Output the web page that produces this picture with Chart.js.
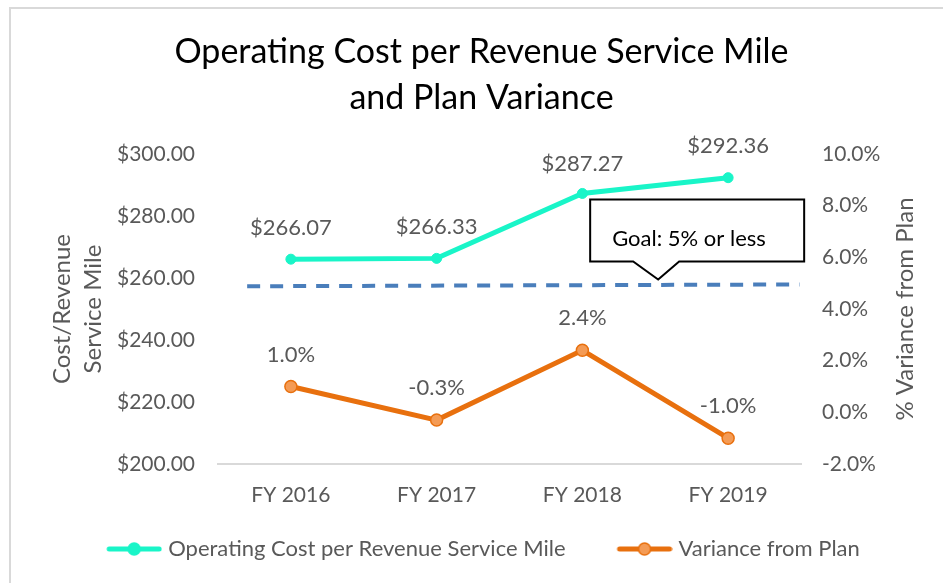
<!DOCTYPE html>
<html>
<head>
<meta charset="utf-8">
<script src="https://cdn.jsdelivr.net/npm/chart.js@4.4.1/dist/chart.umd.min.js"></script>
<style>
html, body { margin: 0; padding: 0; background: #fff; }
</style>
</head>
<body>
<canvas id="chart" width="943" height="583"></canvas>
<script>
// values
const years = ['FY 2016', 'FY 2017', 'FY 2018', 'FY 2019']
const costPerMile = [266.07, 266.33, 287.27, 292.36]
const planVariance = [1.0, -0.3, 2.4, -1.0]
// goal line is drawn as a slightly sloped dashed line in the source (x in category units)
const goalX = [-0.3, 3.49]
const goalY = [4.88, 4.95]
const goalText = 'Goal: 5% or less'

const FONT = 'Lato'
const GRAY = '#595959'
const CYAN = '#19F5C8'
const ORANGE = '#E8700E'

// legend swatches: line with a dot, like the office legend
// (canvas wider than the legend box, swatch pushed right so it sits next to the text)
function swatch(color, fill, border) {
    const c = document.createElement('canvas')
    c.width = 96; c.height = 16
    const g = c.getContext('2d')
    g.strokeStyle = color; g.lineWidth = 5; g.lineCap = 'round'
    g.beginPath(); g.moveTo(43, 8); g.lineTo(93, 8); g.stroke()
    g.beginPath(); g.arc(68, 8, 6, 0, Math.PI * 2)
    g.fillStyle = fill; g.fill()
    g.lineWidth = 1.5; g.strokeStyle = border; g.stroke()
    return c
}
const swatches = [swatch(CYAN, CYAN, CYAN), swatch(ORANGE, '#F49B55', ORANGE)]

const labelLift = [[31, 31, 30, 32], [32, 32, 32, 32]]

const extras = {
    id: 'extras',
    afterLayout(chart) {
        // legend sits a bit left of centre in the source
        if (chart.legend) chart.legend.left -= 32
    },
    beforeDraw(chart) {
        const ctx = chart.ctx
        ctx.save()
        ctx.fillStyle = '#fff'
        ctx.fillRect(0, 0, chart.width, chart.height)
        ctx.strokeStyle = '#D9D9D9'
        ctx.lineWidth = 2
        ctx.strokeRect(10, 8, chart.width + 20, chart.height + 20)
        ctx.restore()
    },
    afterDatasetsDraw(chart) {
        const ctx = chart.ctx
        ctx.save()
        ctx.font = `22px ${FONT}`
        ctx.fillStyle = GRAY
        ctx.textAlign = 'center'
        ctx.textBaseline = 'middle'
        ;[0, 1].forEach(d => {
            const meta = chart.getDatasetMeta(d)
            const vals = chart.data.datasets[d].data
            meta.data.forEach((pt, i) => {
                const txt = d === 0 ? '$' + vals[i].toFixed(2) : vals[i].toFixed(1) + '%'
                ctx.fillText(txt, pt.x, pt.y - labelLift[d][i])
            })
        })

        // callout box pointing at the goal line
        const tipX = chart.scales.x.getPixelForValue(2.52)
        const tipY = chart.scales.y1.getPixelForValue(4.95) - 5
        const l = tipX - 68, r = tipX + 146, t = tipY - 80, b = tipY - 18
        ctx.beginPath()
        ctx.moveTo(l, t); ctx.lineTo(r, t); ctx.lineTo(r, b)
        ctx.lineTo(tipX + 21, b); ctx.lineTo(tipX, tipY); ctx.lineTo(tipX - 25, b)
        ctx.lineTo(l, b); ctx.closePath()
        ctx.fillStyle = '#fff'; ctx.fill()
        ctx.strokeStyle = '#000'; ctx.lineWidth = 2; ctx.stroke()
        ctx.fillStyle = '#000'
        ctx.textAlign = 'left'
        ctx.font = `22px ${FONT}`
        ctx.fillText(goalText, l + 22, t + 39)

        // right axis title reads bottom to top
        const y1 = chart.scales.y1
        ctx.save()
        ctx.translate(905, (y1.top + y1.bottom) / 2)
        ctx.rotate(-Math.PI / 2)
        ctx.textAlign = 'center'
        ctx.fillStyle = GRAY
        ctx.font = `24px ${FONT}`
        ctx.fillText('% Variance from Plan', 0, 0)
        ctx.restore()
        ctx.restore()
    }
}

new Chart(document.getElementById('chart'), {
    type: 'line',
    data: {
        labels: years,
        datasets: [{
            label: 'Operating Cost per Revenue Service Mile',
            data: costPerMile,
            yAxisID: 'y',
            borderColor: CYAN,
            backgroundColor: CYAN,
            borderWidth: 5,
            pointRadius: 5,
            pointBorderWidth: 1,
            pointBackgroundColor: CYAN,
            pointBorderColor: CYAN
        }, {
            label: 'Variance from Plan',
            data: planVariance,
            yAxisID: 'y1',
            borderColor: ORANGE,
            backgroundColor: '#F49B55',
            borderWidth: 5,
            pointRadius: 6,
            pointBorderWidth: 1.5,
            pointBackgroundColor: '#F49B55',
            pointBorderColor: ORANGE
        }, {
            label: 'goal',
            data: goalX.map((x, i) => ({ x: x, y: goalY[i] })),
            xAxisID: 'xg',
            yAxisID: 'y1',
            borderColor: '#4A7EBB',
            borderWidth: 4,
            borderDash: [13, 10],
            pointRadius: 0,
            order: 5
        }]
    },
    options: {
        responsive: false,
        animation: false,
        events: [],
        layout: { padding: { left: 20, right: 0, top: 0, bottom: 13 } },
        plugins: {
            title: {
                display: true,
                text: ['Operating Cost per Revenue Service Mile', 'and Plan Variance'],
                color: '#000',
                font: { family: FONT, size: 34, weight: 'normal', lineHeight: '46px' },
                padding: { top: 29, bottom: 33 }
            },
            legend: {
                position: 'bottom',
                labels: {
                    color: GRAY,
                    font: { family: FONT, size: 22 },
                    usePointStyle: true,
                    pointStyleWidth: 86,
                    padding: 16,
                    generateLabels: chart => chart.data.datasets.slice(0, 2).map((ds, i) => ({
                        text: ds.label,
                        datasetIndex: i,
                        pointStyle: swatches[i],
                        fillStyle: ds.borderColor,
                        strokeStyle: ds.borderColor,
                        lineWidth: 0,
                        fontColor: GRAY
                    }))
                }
            },
            tooltip: { enabled: false }
        },
        scales: {
            x: {
                offset: true,
                grid: { display: false, drawTicks: false },
                border: { color: '#D9D9D9', width: 2 },
                ticks: { color: GRAY, font: { family: FONT, size: 21 }, padding: 19 },
                afterFit: s => { s.height = 58 }
            },
            xg: {
                type: 'linear',
                display: false,
                min: -0.5,
                max: 3.5
            },
            y: {
                position: 'left',
                min: 200,
                max: 300,
                grid: { display: false, drawTicks: false },
                border: { display: false },
                ticks: {
                    stepSize: 20,
                    color: GRAY,
                    font: { family: FONT, size: 21 },
                    padding: 23,
                    callback: v => '$' + v.toFixed(2)
                },
                title: {
                    display: true,
                    text: ['Cost/Revenue', 'Service Mile'],
                    color: GRAY,
                    font: { family: FONT, size: 24, lineHeight: '31px' },
                    padding: { top: 26.5, bottom: 0 }
                },
                afterFit: s => { s.width = 198 }
            },
            y1: {
                position: 'right',
                min: -2,
                max: 10,
                grid: { display: false, drawTicks: false },
                border: { display: false },
                ticks: {
                    stepSize: 2,
                    color: GRAY,
                    font: { family: FONT, size: 21 },
                    padding: 21,
                    callback: v => v.toFixed(1) + '%'
                },
                afterFit: s => { s.width = 142 }
            }
        }
    },
    plugins: [extras]
})
</script>
</body>
</html>
